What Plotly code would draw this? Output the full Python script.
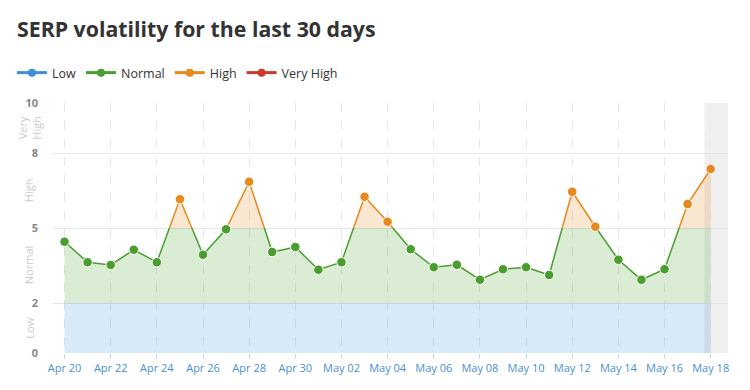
import pandas as pd
import plotly.graph_objects as go

# ---- data ----
start_date = "2017-04-20"
end_date = "2017-05-18"
values = [4.45, 3.63, 3.52, 4.13, 3.63, 6.15, 3.93, 4.95, 6.85, 4.04,
          4.24, 3.33, 3.63, 6.25, 5.25, 4.15, 3.43, 3.53, 2.93, 3.35,
          3.43, 3.12, 6.45, 5.05, 3.73, 2.93, 3.35, 5.96, 7.36]
band_names = ["Low", "Normal", "High", "Very High"]
band_edges = [0, 2, 5, 8, 10]
band_colors = ["#3b8fd9", "#4a9e2f", "#e8891d", "#c9392c"]
y_tick_vals = [0, 2, 5, 8, 10]

dates = pd.date_range(start_date, end_date, freq="D")
day = pd.Timedelta(days=1)

LOW_TOP, NORMAL_TOP = band_edges[1], band_edges[2]

# insert crossing points with the Normal/High boundary
pts = []
for i, v in enumerate(values):
    if i > 0:
        v0 = values[i - 1]
        if (v0 - NORMAL_TOP) * (v - NORMAL_TOP) < 0:
            f = (NORMAL_TOP - v0) / (v - v0)
            pts.append((dates[i - 1] + f * day, NORMAL_TOP))
    pts.append((dates[i], v))
px = [p[0] for p in pts]
pv = [p[1] for p in pts]


def rgba(hexc, a):
    h = hexc.lstrip("#")
    return "rgba(%d,%d,%d,%s)" % (int(h[0:2], 16), int(h[2:4], 16), int(h[4:6], 16), a)


fig = go.Figure()

# area fills (stacked bands)
fig.add_trace(go.Scatter(x=px, y=[min(v, LOW_TOP) for v in pv], mode="lines",
                         line=dict(width=0), fill="tozeroy",
                         fillcolor=rgba(band_colors[0], 0.2), showlegend=False, hoverinfo="skip"))
fig.add_trace(go.Scatter(x=px, y=[min(max(v, LOW_TOP), NORMAL_TOP) for v in pv], mode="lines",
                         line=dict(width=0), fill="tonexty",
                         fillcolor=rgba(band_colors[1], 0.2), showlegend=False, hoverinfo="skip"))
# baseline at the Normal/High boundary
fig.add_trace(go.Scatter(x=px, y=[NORMAL_TOP for v in pv], mode="lines",
                         line=dict(width=0), showlegend=False, hoverinfo="skip"))
fig.add_trace(go.Scatter(x=px, y=[max(v, NORMAL_TOP) for v in pv], mode="lines",
                         line=dict(width=0), fill="tonexty",
                         fillcolor=rgba(band_colors[2], 0.2), showlegend=False, hoverinfo="skip"))

# lines
fig.add_trace(go.Scatter(x=px, y=[v if v <= NORMAL_TOP else None for v in pv], mode="lines",
                         line=dict(color=band_colors[1], width=1.5), showlegend=False,
                         connectgaps=False, hoverinfo="skip"))
fig.add_trace(go.Scatter(x=px, y=[v if v >= NORMAL_TOP else None for v in pv], mode="lines",
                         line=dict(color=band_colors[2], width=1.5), showlegend=False,
                         connectgaps=False, hoverinfo="skip"))


def color_for(v):
    for k in range(4):
        if v <= band_edges[k + 1]:
            return band_colors[k]
    return band_colors[-1]


fig.add_trace(go.Scatter(x=dates, y=values, mode="markers",
                         marker=dict(size=9.5, color=[color_for(v) for v in values],
                                     line=dict(color="white", width=1)),
                         showlegend=False))

# legend entries
for name, c in zip(band_names, band_colors):
    fig.add_trace(go.Scatter(x=[None], y=[None], mode="lines+markers", name=name,
                             line=dict(color=c, width=3), marker=dict(size=8, color=c)))

# highlighted last-day column
fig.add_shape(type="rect", xref="x", yref="y",
              x0=dates[-1] - 0.27 * day, x1=dates[-1] + 0.75 * day, y0=0, y1=10,
              fillcolor="#efefef", line=dict(width=0), layer="below")

# band labels on the y axis
for k, name in enumerate(band_names):
    mid = (band_edges[k] + band_edges[k + 1]) / 2
    fig.add_annotation(x=-0.036, xref="paper", y=mid, yref="y",
                       text=name.replace(" ", "<br>"), textangle=-90, showarrow=False,
                       font=dict(size=11, color="#cccccc"), xanchor="center", yanchor="middle")

fig.update_layout(
    width=750, height=390,
    margin=dict(l=53, r=22, t=103, b=37, autoexpand=False),
    paper_bgcolor="white", plot_bgcolor="white",
    font=dict(family="Open Sans, sans-serif"),
    title=dict(text="SERP volatility for the last 30 days", x=17 / 750, xref="container",
               xanchor="left", y=1 - 30 / 390, yref="container", yanchor="middle",
               font=dict(size=21.3, color="#333333", weight="bold")),
    legend=dict(orientation="h", x=(12 - 53) / 675, xref="paper", y=1 + (103 - 73) / 250,
                yref="paper", xanchor="left", yanchor="middle",
                font=dict(size=12.5, color="#333333"), itemwidth=30, traceorder="normal"),
    showlegend=True,
)
fig.update_xaxes(
    range=[dates[0] - 0.5 * day, dates[-1] + 0.75 * day],
    tickvals=dates[::2], tickformat="%b %d",
    tickfont=dict(size=11, color="#4a8fd6"),
    ticks="outside", ticklen=5, tickcolor="#ccd6eb",
    showgrid=True, gridcolor="#e6e6e6", griddash="dash", gridwidth=1,
    showline=False, zeroline=False,
)
fig.update_yaxes(
    range=[0, 10], tickvals=y_tick_vals,
    tickfont=dict(size=11, color="#888888", weight="bold"),
    showgrid=True, gridcolor="#e6e6e6", zeroline=False, ticklabelstandoff=14,
)

fig.write_html("out.html", config={"displayModeBar": False},
               post_script="document.body.style.margin='0';document.body.style.overflow='hidden';")
